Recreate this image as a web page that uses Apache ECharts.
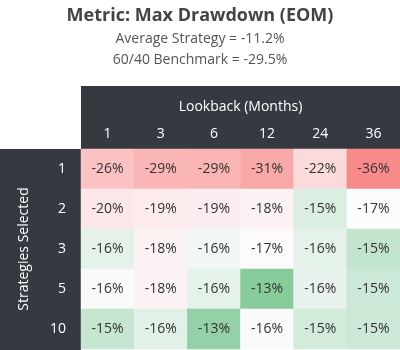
<!DOCTYPE html>
<html>
<head>
    <meta charset="utf-8">
    <title>Max Drawdown heatmap</title>
    <style>
        html, body { margin: 0; padding: 0; background: #fff; }
        #container { width: 400px; height: 350px; }
    </style>
</head>
<body>
<div id="container"></div>
<script src="https://cdn.jsdelivr.net/npm/echarts@6/dist/echarts.min.js"></script>
<script type="text/javascript">
    // lookback months (columns) and number of strategies selected (rows)
    var lookbacks = ['1', '3', '6', '12', '24', '36'];
    var selected = ['1', '2', '3', '5', '10'];

    // max drawdown in %, one array per row
    var row1 = [-26.4, -28.6, -28.8, -30.9, -22.3, -36.0];
    var row2 = [-20.2, -19.4, -19.0, -18.4, -15.4, -16.6];
    var row3 = [-15.7, -18.2, -16.1, -16.9, -15.7, -14.6];
    var row5 = [-16.4, -18.3, -15.7, -12.6, -15.8, -14.9];
    var row10 = [-14.7, -15.6, -13.0, -16.4, -15.1, -14.9];
    var rows = [row1, row2, row3, row5, row10];

    var avgStrategy = -11.2;
    var benchmark = -29.5;

    var dark = '#343a40';
    var font = 'Open Sans';

    var data = [];
    rows.forEach(function (r, yi) {
        r.forEach(function (v, xi) {
            data.push([xi, yi, v]);
        });
    });

    var myChart = echarts.init(document.getElementById('container'));

    var subStyle = { fontFamily: font, fontSize: 14, fontWeight: 'normal', color: '#555' };

    var option = {
        animation: false,
        textStyle: { fontFamily: font },
        title: [
            {
                text: 'Metric: Max Drawdown (EOM)',
                left: 'center',
                top: 2,
                textStyle: { fontFamily: font, fontSize: 18, fontWeight: 'bold', color: '#444' }
            },
            {
                text: 'Average Strategy = ' + avgStrategy.toFixed(1) + '%',
                left: 'center',
                top: 27,
                textStyle: subStyle
            },
            {
                text: '60/40 Benchmark = ' + benchmark.toFixed(1) + '%',
                left: 'center',
                top: 48,
                textStyle: subStyle
            }
        ],
        // dark header / side blocks behind axis labels
        graphic: [
            { type: 'rect', z: -10, shape: { x: 81, y: 86, width: 319, height: 63 }, style: { fill: dark } },
            { type: 'rect', z: -10, shape: { x: 0, y: 149, width: 81, height: 201 }, style: { fill: dark } }
        ],
        grid: { left: 81, top: 149, width: 319, height: 200 },
        xAxis: {
            type: 'category',
            data: lookbacks,
            position: 'top',
            name: 'Lookback (Months)',
            nameLocation: 'middle',
            nameGap: 42,
            nameTextStyle: { color: '#fff', fontSize: 14, fontFamily: font, verticalAlign: 'middle' },
            axisLine: { show: false },
            axisTick: { show: false },
            splitLine: { show: false },
            axisLabel: { color: '#fff', fontSize: 14, margin: 8, fontFamily: font }
        },
        yAxis: {
            type: 'category',
            data: selected,
            inverse: true,
            name: 'Strategies Selected',
            nameLocation: 'middle',
            nameRotate: 90,
            nameGap: 57,
            nameTextStyle: { color: '#fff', fontSize: 14, fontFamily: font, verticalAlign: 'middle' },
            axisLine: { show: false },
            axisTick: { show: false },
            splitLine: { show: false },
            axisLabel: { color: '#fff', fontSize: 14, margin: 15, fontFamily: font }
        },
        visualMap: {
            show: false,
            type: 'continuous',
            dimension: 2,
            min: -36.0,
            max: -12.6,
            inRange: {
                color: ['#f88a8a', '#f9a1a1', '#fab8b8', '#facecf', '#fbe5e7', '#fcfcfe', '#88cc9c']
            }
        },
        series: [{
            type: 'heatmap',
            data: data,
            label: {
                show: true,
                fontSize: 14,
                fontFamily: font,
                color: '#333',
                formatter: function (p) { return Math.round(p.value[2]) + '%'; }
            },
            itemStyle: { borderWidth: 0 },
            emphasis: { disabled: true }
        }]
    };

    myChart.setOption(option);
</script>
</body>
</html>
